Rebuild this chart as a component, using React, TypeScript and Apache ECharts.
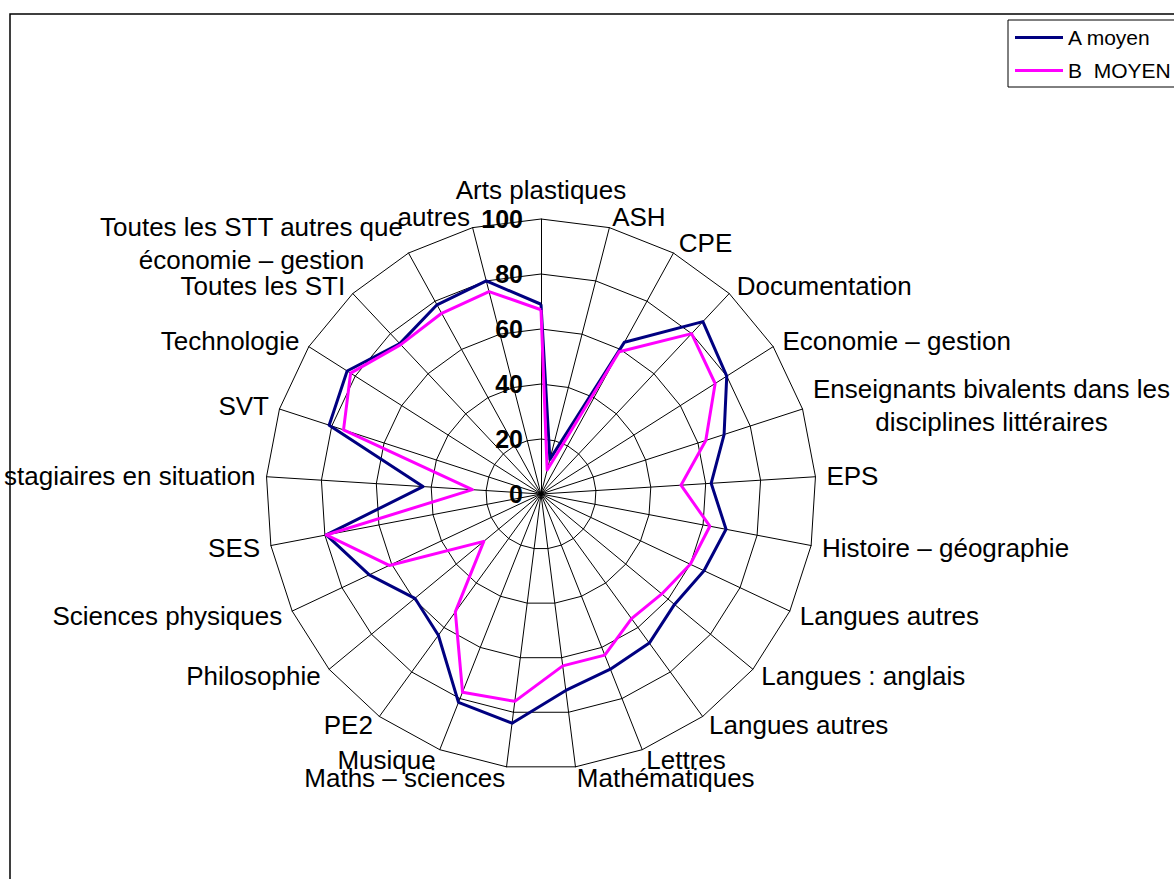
import React, { useEffect, useRef } from "react";
import * as echarts from "echarts";

const FONT = "'Liberation Sans', Arial, sans-serif";

// Categories in clockwise order starting from the top axis
const categories = [
  "Arts plastiques",
  "ASH",
  "CPE",
  "Documentation",
  "Economie – gestion",
  "Enseignants bivalents dans les\ndisciplines littéraires",
  "EPS",
  "Histoire – géographie",
  "Langues autres",
  "Langues : anglais",
  "Langues autres",
  "Lettres",
  "Mathématiques",
  "Maths – sciences",
  "Musique",
  "PE2",
  "Philosophie",
  "Sciences physiques",
  "SES",
  "stagiaires en situation",
  "SVT",
  "Technologie",
  "Toutes les STI",
  "Toutes les STT autres que\néconomie – gestion",
  "autres",
];

const seriesNames = ["A moyen", "B  MOYEN"];

const aMoyen = [69, 13, 63, 86, 80, 70, 62, 68.5, 65.5, 63, 67, 68.5, 72, 84, 81.5, 63.5, 59.5, 69, 79.5, 43, 81, 83.5, 75, 78.5, 80];
const bMoyen = [67, 9, 59, 80, 75, 63, 51, 62.5, 60, 57, 56, 63, 63, 76, 77.5, 53, 27, 61, 79.5, 25, 75.5, 82, 74.5, 75, 76];

const radialTicks = [0, 20, 40, 60, 80, 100];

const seriesColors = ["#000080", "#FF00FF"];

// ECharts radar runs counter-clockwise; reorder so the reference's clockwise layout is kept
const clockwise = <T,>(arr: T[]): T[] => [arr[0], ...arr.slice(1).reverse()];

export default function App() {
  const ref = useRef<HTMLDivElement>(null);

  useEffect(() => {
    if (!ref.current) return;
    const chart = echarts.init(ref.current, undefined, { renderer: "svg" });
    const maxV = radialTicks[radialTicks.length - 1];
    const option: any = {
      animation: false,
      backgroundColor: "#ffffff",
      textStyle: { fontFamily: FONT },
      graphic: [
        {
          type: "rect",
          silent: true,
          z: -10,
          shape: { x: 10, y: 14, width: 1400, height: 1000 },
          style: { fill: "none", stroke: "#000", lineWidth: 1.5 },
        },
      ],
      legend: {
        data: seriesNames,
        orient: "vertical",
        left: 1008,
        top: 20,
        icon: "rect",
        itemWidth: 48,
        itemHeight: 3,
        itemGap: 12,
        padding: [7, 8, 6, 7],
        borderColor: "#000",
        borderWidth: 1,
        backgroundColor: "#fff",
        textStyle: { fontSize: 21, color: "#000", fontFamily: FONT },
      },
      radar: {
        center: [541, 494],
        radius: 275,
        startAngle: 90,
        shape: "polygon",
        splitNumber: radialTicks.length - 1,
        nameGap: 11,
        indicator: clockwise(categories).map((name, i) => ({
          name,
          min: radialTicks[0],
          max: maxV,
          ...(i === 0 ? { axisLabel: { show: true } } : {}),
        })),
        axisName: {
          formatter: (n: string) =>
            n
              .split("\n")
              .map((l) => `{c|${l}}`)
              .join("\n"),
          color: "#000",
          fontSize: 26,
          fontFamily: FONT,
          lineHeight: 33,
          rich: {
            c: {
              align: "center",
              fontSize: 26,
              fontFamily: FONT,
              color: "#000",
              lineHeight: 33,
            },
          },
        },
        axisLine: { lineStyle: { color: "#000", width: 1 } },
        splitLine: { lineStyle: { color: "#000", width: 1 } },
        splitArea: { show: false },
        axisTick: { show: false },
        axisLabel: {
          show: false,
          color: "#000",
          fontSize: 25,
          fontWeight: "bold",
          fontFamily: FONT,
          margin: 18,
        },
      },
      series: [
        {
          type: "radar",
          symbol: "none",
          data: [
            {
              name: seriesNames[0],
              value: clockwise(aMoyen),
              lineStyle: { color: seriesColors[0], width: 3 },
              itemStyle: { color: seriesColors[0] },
            },
            {
              name: seriesNames[1],
              value: clockwise(bMoyen),
              lineStyle: { color: seriesColors[1], width: 3 },
              itemStyle: { color: seriesColors[1] },
            },
          ],
        },
      ],
    };
    chart.setOption(option);
    return () => chart.dispose();
  }, []);

  return (
    <div
      ref={ref}
      style={{ position: "fixed", left: 0, top: 0, width: 1174, height: 879, background: "#fff" }}
    />
  );
}
